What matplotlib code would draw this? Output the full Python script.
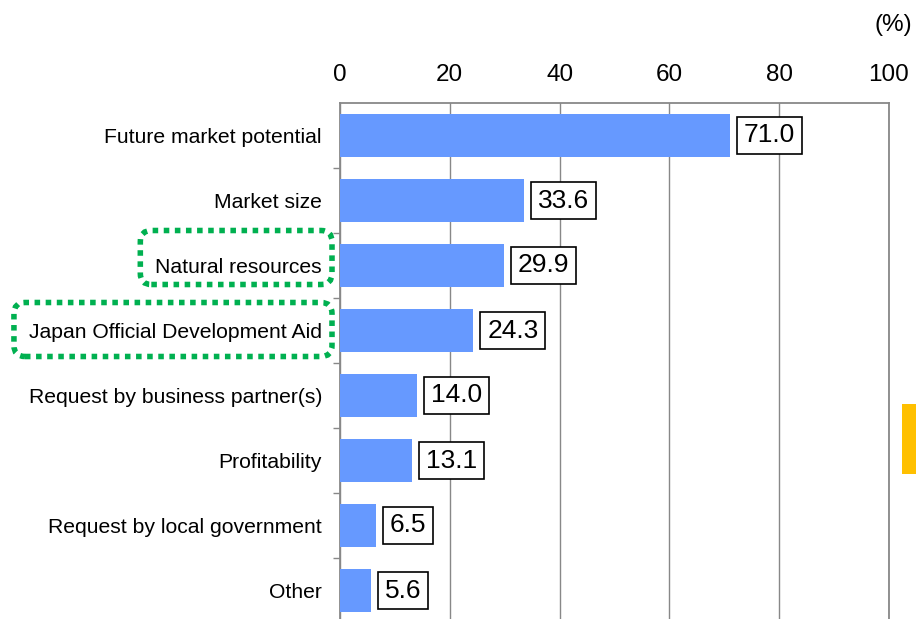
import matplotlib
matplotlib.use("Agg")
import matplotlib.pyplot as plt
from matplotlib.patches import FancyBboxPatch, Rectangle

plt.rcParams['font.family'] = ['Liberation Sans', 'DejaVu Sans']

categories = ["Future market potential", "Market size", "Natural resources",
              "Japan Official Development Aid", "Request by business partner(s)",
              "Profitability", "Request by local government", "Other"]
values = [71.0, 33.6, 29.9, 24.3, 14.0, 13.1, 6.5, 5.6]
# highlighted labels and vertical offset (px) of the highlight box centre
highlighted = {"Natural resources": 10, "Japan Official Development Aid": 3}
xticks = [0, 20, 40, 60, 80, 100]

W, H = 916, 619
fig = plt.figure(figsize=(W / 100, H / 100), dpi=100)
ax = fig.add_axes([340 / W, -4 / H, (889 - 340) / W, (623 - 103) / H])

ypos = list(range(len(categories)))
ax.barh(ypos, values, height=0.66, color="#6699FF", zorder=3)
for y, v in zip(ypos, values):
    ax.annotate(f"{v:.1f}", xy=(v, y), xytext=(10, 0), textcoords="offset points",
                ha="left", va="center", fontsize=19, zorder=5,
                bbox=dict(boxstyle="square,pad=0.26", fc="white", ec="black", lw=1.2))

ax.set_xlim(0, 100)
ax.set_ylim(len(categories) - 0.5, -0.5)
ax.xaxis.tick_top()
ax.set_xticks(xticks)
ax.tick_params(axis="x", length=0, labelsize=17.5, pad=12)
ax.set_yticks(ypos)
ax.set_yticklabels(categories, fontsize=15.2)
ax.tick_params(axis="y", which="major", length=0, pad=13)
ax.set_yticks([y + 0.5 for y in ypos[:-1]], minor=True)
ax.tick_params(axis="y", which="minor", length=5, color="#888888", width=1)
ax.grid(axis="x", color="#888888", lw=1, zorder=1)
for s in ["left", "top", "right"]:
    ax.spines[s].set_color("#888888")
    ax.spines[s].set_linewidth(1.3)
ax.spines["bottom"].set_visible(False)

fig.text(912 / W, 1 - 25 / H, "(%)", ha="right", va="center", fontsize=17.5)

# orange side marker
fig.patches.append(Rectangle((902 / W, 1 - 474 / H), 14 / W, 70 / H,
                             transform=fig.transFigure, fc="#FFC000", ec="none"))

# green dotted highlight boxes around selected labels
fig.canvas.draw()
r = fig.canvas.get_renderer()
for lab in ax.get_yticklabels():
    if lab.get_text() in highlighted:
        bb = lab.get_window_extent(r)
        cy = (bb.y0 + bb.y1) / 2 + highlighted[lab.get_text()]
        x0 = bb.x0 - 15
        x1 = 332
        h = 54
        fig.patches.append(FancyBboxPatch((x0, cy - h / 2), x1 - x0, h,
                           boxstyle="round,pad=0,rounding_size=11",
                           transform=None, fc="none", ec="#00B050",
                           lw=4, linestyle=(0, (1, 1))))

fig.savefig("out.png", dpi=100)
